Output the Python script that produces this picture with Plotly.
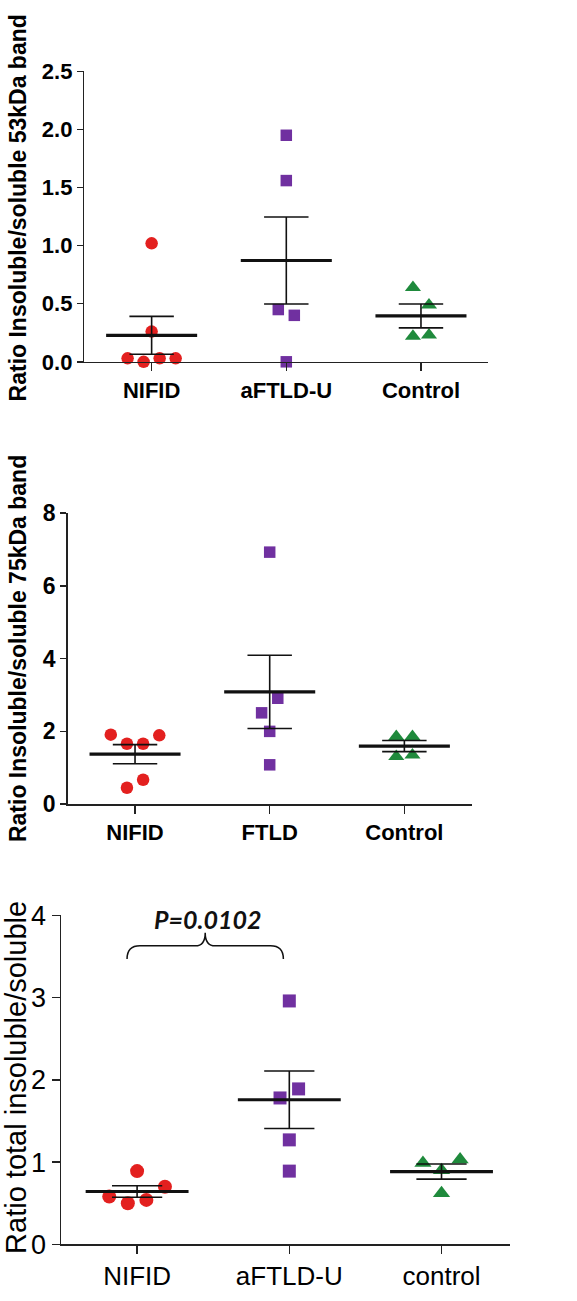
import numpy as np
import plotly.graph_objects as go

W, H = 577, 1301

# ---------------- data ----------------
# Panel 1: 53 kDa band
cats_53 = ["NIFID", "aFTLD-U", "Control"]
nifid_53 = [1.02, 0.26, 0.03, 0.00, 0.03, 0.03]
aftld_53 = [1.95, 1.56, 0.45, 0.40, 0.00]
control_53 = [0.64, 0.49, 0.22, 0.23]
yticks_53 = [0, 0.5, 1.0, 1.5, 2.0, 2.5]
yticktext_53 = ["0.0", "0.5", "1.0", "1.5", "2.0", "2.5"]
title_53 = "Ratio Insoluble/soluble 53kDa band"

# Panel 2: 75 kDa band
cats_75 = ["NIFID", "FTLD", "Control"]
nifid_75 = [1.91, 1.66, 1.66, 1.89, 0.45, 0.67]
ftld_75 = [6.93, 2.91, 2.51, 2.00, 1.08]
control_75 = [1.86, 1.86, 1.31, 1.35]
yticks_75 = [0, 2, 4, 6, 8]
yticktext_75 = ["0", "2", "4", "6", "8"]
title_75 = "Ratio Insoluble/soluble 75kDa band"

# Panel 3: total
cats_tot = ["NIFID", "aFTLD-U", "control"]
nifid_tot = [0.89, 0.70, 0.58, 0.50, 0.54]
aftld_tot = [2.96, 1.89, 1.78, 1.27, 0.89]
control_tot = [0.99, 1.03, 0.90, 0.62]
yticks_tot = [0, 1, 2, 3, 4]
yticktext_tot = ["0", "1", "2", "3", "4"]
title_tot = "Ratio total insoluble/soluble"
p_label = "P=0.0102"

# ---------------- layout / style ----------------
# horizontal scatter slot of each point (in marker-slot units)
slots_53 = [[0, 0, -1.5, -0.5, 0.5, 1.5], [0, 0, -0.5, 0.5, 0], [-0.5, 0.5, -0.5, 0.5]]
slots_75 = [[-1.5, -0.5, 0.5, 1.5, -0.5, 0.5], [0, 0.5, -0.5, 0, 0], [-0.5, 0.5, -0.5, 0.5]]
slots_tot = [[0, 1.5, -1.5, -0.5, 0.5], [0, 0.5, -0.5, 0, 0], [-1, 1, 0, 0]]

colors = ["#e3201f", "#7030a0", "#1f8a3c"]
symbols = ["circle", "square", "triangle-up"]
AX = "#222222"
FONT = "Liberation Sans, Arial, sans-serif"

panels = [
    dict(groups=[nifid_53, aftld_53, control_53], cats=cats_53, slots=slots_53,
         yt=yticks_53, ytt=yticktext_53, yr=[0, 2.5], xr=[-0.5, 2.5], title=title_53,
         xpx=[84.3, 488.3], ypx=[57.7, 355], slot=0.119, msize=[12.5, 11.5, 14],
         ylen=6, tickfont=dict(size=22, weight="bold"), catfont=dict(size=22, weight="bold"),
         titlefont=dict(size=23, weight="bold"), title_pos=(18, 198)),
    dict(groups=[nifid_75, ftld_75, control_75], cats=cats_75, slots=slots_75,
         yt=yticks_75, ytt=yticktext_75, yr=[0, 8], xr=[-0.5, 2.5], title=title_75,
         xpx=[67.7, 471.7], ypx=[510, 807.7], slot=0.12, msize=[12.5, 11.5, 14],
         ylen=6, tickfont=dict(size=23, weight="bold"), catfont=dict(size=22, weight="bold"),
         titlefont=dict(size=23, weight="bold"), title_pos=(18, 649)),
    dict(groups=[nifid_tot, aftld_tot, control_tot], cats=cats_tot, slots=slots_tot,
         yt=yticks_tot, ytt=yticktext_tot, yr=[0, 4], xr=[-0.5, 2.45], title=title_tot,
         xpx=[61, 510], ypx=[921.7, 1258.3], slot=0.122, msize=[14, 13, 15],
         ylen=8, tickfont=dict(size=27, weight="normal"), catfont=dict(size=26, weight="normal"),
         titlefont=dict(size=29, weight="normal"), title_pos=(16, 1088)),
]

fig = go.Figure()
layout = dict(width=W, height=H, margin=dict(l=0, r=0, t=0, b=0),
              paper_bgcolor="white", plot_bgcolor="white", showlegend=False,
              annotations=[], shapes=[])

MEAN_HALF = 0.338
CAP_HALF = 0.165

for k, p in enumerate(panels, start=1):
    xa = "x" if k == 1 else f"x{k}"
    ya = "y" if k == 1 else f"y{k}"
    # markers
    for g, vals in enumerate(p["groups"]):
        xs = [g + s * p["slot"] for s in p["slots"][g]]
        fig.add_trace(go.Scatter(
            x=xs, y=vals, mode="markers", xaxis=xa, yaxis=ya, cliponaxis=False,
            marker=dict(symbol=symbols[g], color=colors[g], size=p["msize"][g],
                        line=dict(width=0)),
            hoverinfo="skip"))
    # mean +- SEM
    ex, ey, mx, my = [], [], [], []
    for g, vals in enumerate(p["groups"]):
        v = np.asarray(vals, dtype=float)
        m = v.mean()
        sem = v.std(ddof=1) / np.sqrt(len(v))
        ex += [g, g, None, g - CAP_HALF, g + CAP_HALF, None, g - CAP_HALF, g + CAP_HALF, None]
        ey += [m - sem, m + sem, None, m + sem, m + sem, None, m - sem, m - sem, None]
        mx += [g - MEAN_HALF, g + MEAN_HALF, None]
        my += [m, m, None]
    fig.add_trace(go.Scatter(x=ex, y=ey, mode="lines", xaxis=xa, yaxis=ya,
                             cliponaxis=False, line=dict(color="#111111", width=1.6),
                             hoverinfo="skip"))
    fig.add_trace(go.Scatter(x=mx, y=my, mode="lines", xaxis=xa, yaxis=ya,
                             cliponaxis=False, line=dict(color="#111111", width=3.2),
                             hoverinfo="skip"))

    xk = "xaxis" if k == 1 else f"xaxis{k}"
    yk = "yaxis" if k == 1 else f"yaxis{k}"
    layout[xk] = dict(
        domain=[p["xpx"][0] / W, p["xpx"][1] / W], anchor=ya,
        range=p["xr"], tickmode="array", tickvals=[0, 1, 2], ticktext=p["cats"],
        showgrid=False, zeroline=False, showline=True, linecolor=AX, linewidth=1.5,
        ticks="outside", ticklen=8, tickwidth=1.5, tickcolor=AX,
        tickfont=dict(family=FONT, color="black", **p["catfont"]), fixedrange=True)
    layout[yk] = dict(
        domain=[1 - p["ypx"][1] / H, 1 - p["ypx"][0] / H], anchor=xa,
        range=p["yr"], tickmode="array", tickvals=p["yt"], ticktext=p["ytt"],
        showgrid=False, zeroline=False, showline=True, linecolor=AX, linewidth=1.5,
        ticks="outside", ticklen=p["ylen"], tickwidth=1.5, tickcolor=AX,
        tickfont=dict(family=FONT, color="black", **p["tickfont"]), fixedrange=True)
    tx, ty = p["title_pos"]
    layout["annotations"].append(dict(
        text=p["title"], xref="paper", yref="paper", x=tx / W, y=1 - ty / H,
        xanchor="center", yanchor="middle", textangle=-90, showarrow=False,
        font=dict(family=FONT, color="black", **p["titlefont"])))

# significance bracket between group 0 and group 1 of panel 3
bl, br = 0 - 0.066, 1 - 0.039
xm = (bl + br) / 2
yb, yh, yp = 3.47, 3.63, 3.79
rx, rxm = 0.085, 0.065
path = (f"M {bl},{yb} Q {bl},{yh} {bl + rx},{yh} L {xm - rxm},{yh} "
        f"Q {xm},{yh} {xm},{yp} Q {xm},{yh} {xm + rxm},{yh} "
        f"L {br - rx},{yh} Q {br},{yh} {br},{yb}")
layout["shapes"].append(dict(type="path", xref="x3", yref="y3", path=path,
                             line=dict(color="#111111", width=1.5)))
layout["annotations"].append(dict(
    text=p_label, xref="x3", yref="y3", x=xm + 0.012, y=3.96, showarrow=False,
    xanchor="center", yanchor="middle",
    font=dict(family="Lato, Open Sans, sans-serif", size=25, color="#111111",
              weight="bold", style="italic")))

fig.update_layout(**layout)
fig.write_html(
    "out.html",
    config={"displayModeBar": False, "staticPlot": True},
    post_script="document.body.style.margin='0';document.body.style.overflow='hidden';",
)
